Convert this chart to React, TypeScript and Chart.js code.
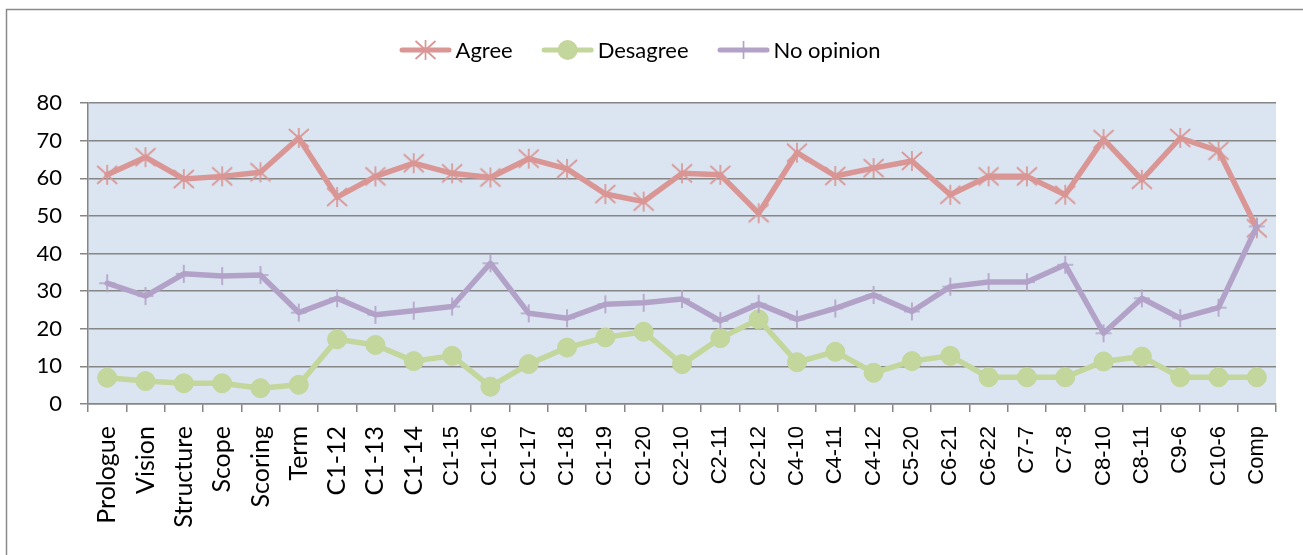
import React, { useEffect, useRef } from "react";
import { Chart, registerables } from "chart.js";

Chart.register(...registerables);

// Survey sections on the category axis
const categories = [
  "Prologue", "Vision", "Structure", "Scope", "Scoring", "Term",
  "C1-12", "C1-13", "C1-14", "C1-15", "C1-16", "C1-17", "C1-18", "C1-19", "C1-20",
  "C2-10", "C2-11", "C2-12", "C4-10", "C4-11", "C4-12", "C5-20", "C6-21", "C6-22",
  "C7-7", "C7-8", "C8-10", "C8-11", "C9-6", "C10-6", "Comp",
];

// Share of answers (%) per section
const agree = [
  60.9, 65.6, 59.8, 60.5, 61.6, 70.7, 55.0, 60.5, 64.0, 61.3, 60.2, 65.2, 62.5, 55.8, 53.8,
  61.3, 60.9, 50.7, 66.8, 60.6, 62.7, 64.6, 55.6, 60.5, 60.5, 55.6, 70.4, 59.6, 70.7, 67.3, 46.7,
];
const desagree = [
  7.0, 6.1, 5.5, 5.5, 4.2, 5.1, 17.2, 15.7, 11.4, 12.8, 4.6, 10.6, 15.0, 17.7, 19.2,
  10.6, 17.5, 22.5, 11.1, 13.9, 8.3, 11.4, 12.8, 7.1, 7.1, 7.1, 11.3, 12.6, 7.1, 7.1, 7.1,
];
const noOpinion = [
  32.1, 28.7, 34.6, 34.0, 34.3, 24.3, 28.1, 23.7, 24.8, 25.9, 37.4, 24.1, 22.8, 26.5, 26.9,
  27.9, 22.1, 26.6, 22.5, 25.4, 29.0, 24.6, 31.2, 32.4, 32.4, 37.0, 18.8, 28.1, 22.8, 25.6, 47.2,
];

const seriesNames = ["Agree", "Desagree", "No opinion"];

const Y_MIN = 0;
const Y_MAX = 80;
const Y_STEP = 10;

const AGREE_COLOR = "#d99694";
const DESAGREE_COLOR = "#c3d69b";
const NO_OPINION_COLOR = "#b3a2c7";
const PLOT_BG = "#dbe5f1";
const GRID_COLOR = "#868686";

const SANS_A = "Lato, 'Open Sans', sans-serif";
const SANS_B = "'Liberation Sans', Arial, sans-serif";

type MarkerKind = "star" | "circle" | "plus";

function paintMarker(ctx: CanvasRenderingContext2D, kind: MarkerKind, color: string, cx: number, cy: number) {
  ctx.save();
  ctx.strokeStyle = color;
  ctx.fillStyle = color;
  ctx.lineWidth = 1.7;
  ctx.lineCap = "butt";
  ctx.beginPath();
  if (kind === "star") {
    ctx.moveTo(cx - 10, cy - 9);
    ctx.lineTo(cx + 10, cy + 9);
    ctx.moveTo(cx + 10, cy - 9);
    ctx.lineTo(cx - 10, cy + 9);
    ctx.moveTo(cx, cy - 10);
    ctx.lineTo(cx, cy + 10);
    ctx.stroke();
  } else if (kind === "plus") {
    ctx.moveTo(cx, cy - 9);
    ctx.lineTo(cx, cy + 9);
    ctx.moveTo(cx - 8, cy);
    ctx.lineTo(cx + 8, cy);
    ctx.stroke();
  } else {
    ctx.arc(cx, cy, 10, 0, Math.PI * 2);
    ctx.fill();
  }
  ctx.restore();
}

function markerImage(kind: MarkerKind, color: string): HTMLCanvasElement {
  const c = document.createElement("canvas");
  c.width = 24;
  c.height = 24;
  const ctx = c.getContext("2d")!;
  paintMarker(ctx, kind, color, 12, 12);
  return c;
}

const markerKinds: MarkerKind[] = ["star", "circle", "plus"];
const colors = [AGREE_COLOR, DESAGREE_COLOR, NO_OPINION_COLOR];

// Grey frame around the whole figure and tinted plot area
const framePlugin = {
  id: "frame",
  beforeDraw(chart: any) {
    const { ctx, chartArea } = chart;
    ctx.save();
    ctx.fillStyle = "#ffffff";
    ctx.fillRect(0, 0, chart.width, chart.height);
    ctx.fillStyle = PLOT_BG;
    ctx.fillRect(chartArea.left, chartArea.top, chartArea.right - chartArea.left, chartArea.bottom - chartArea.top);
    ctx.strokeStyle = "#8a8a8a";
    ctx.lineWidth = 1.5;
    ctx.strokeRect(6.5, 9.5, chart.width + 20, chart.height + 20);
    ctx.restore();
  },
};

// Legend row: line sample with marker, then the series name
const legendPlugin = {
  id: "lineLegend",
  afterDraw(chart: any) {
    const { ctx } = chart;
    const lineLen = 52;
    const gap = 4;
    const spacing = 29;
    const centerX = 640;
    const centerY = 50;
    ctx.save();
    ctx.font = `22px ${SANS_A}`;
    const widths = chart.data.datasets.map((d: any) => ctx.measureText(d.label).width);
    const total = widths.reduce((s: number, w: number) => s + lineLen + gap + w, 0) + spacing * (widths.length - 1);
    let x = centerX - total / 2;
    chart.data.datasets.forEach((d: any, i: number) => {
      ctx.strokeStyle = colors[i];
      ctx.lineWidth = 5;
      ctx.lineCap = "round";
      ctx.beginPath();
      ctx.moveTo(x + 2.5, centerY);
      ctx.lineTo(x + lineLen - 2.5, centerY);
      ctx.stroke();
      paintMarker(ctx, markerKinds[i], colors[i], x + lineLen / 2, centerY);
      ctx.fillStyle = "#000000";
      ctx.textBaseline = "middle";
      ctx.textAlign = "left";
      ctx.fillText(d.label, x + lineLen + gap, centerY + 1);
      x += lineLen + gap + widths[i] + spacing;
    });
    ctx.restore();
  },
};

export default function App() {
  const ref = useRef<HTMLCanvasElement>(null);

  useEffect(() => {
    const canvas = ref.current;
    if (!canvas) return;
    const series = [agree, desagree, noOpinion];
    const chart = new Chart(canvas, {
      type: "line",
      data: {
        labels: categories,
        datasets: series.map((values, i) => ({
          label: seriesNames[i],
          data: values,
          borderColor: colors[i],
          backgroundColor: colors[i],
          borderWidth: 5.5,
          borderJoinStyle: "round" as const,
          borderCapStyle: "round" as const,
          tension: 0,
          fill: false,
          order: 3 - i,
          pointStyle: markerKinds[i] === "circle" ? "circle" : markerImage(markerKinds[i], colors[i]),
          pointRadius: markerKinds[i] === "circle" ? 9.5 : 10,
          pointBorderWidth: 1,
          pointBorderColor: colors[i],
          pointBackgroundColor: colors[i],
        })),
      },
      options: {
        responsive: false,
        devicePixelRatio: 1,
        animation: false,
        events: [],
        layout: { padding: { top: 103, right: 27, bottom: 0, left: 0 } },
        plugins: {
          legend: { display: false },
          tooltip: { enabled: false },
        },
        scales: {
          x: {
            type: "category",
            offset: true,
            afterFit: (s: any) => {
              s.height = 151;
            },
            grid: {
              offset: true,
              drawOnChartArea: false,
              drawTicks: true,
              tickLength: 8,
              color: GRID_COLOR,
              lineWidth: 1.5,
            },
            border: { display: true, color: GRID_COLOR, width: 1.5 },
            ticks: {
              autoSkip: false,
              minRotation: 90,
              maxRotation: 90,
              padding: 14,
              color: "#000000",
              font: (c: any) =>
                c.index >= 9 ? { family: SANS_B, size: 22 } : { family: SANS_A, size: 25 },
            },
          },
          y: {
            min: Y_MIN,
            max: Y_MAX,
            afterFit: (s: any) => {
              s.width = 88;
            },
            grid: {
              color: GRID_COLOR,
              lineWidth: 1.5,
              drawTicks: true,
              tickLength: 8,
            },
            border: { display: true, color: GRID_COLOR, width: 1.5 },
            ticks: {
              stepSize: Y_STEP,
              padding: 18,
              color: "#000000",
              font: { family: SANS_A, size: 22 },
            },
          },
        },
      },
      plugins: [framePlugin, legendPlugin],
    });
    return () => chart.destroy();
  }, []);

  return (
    <div style={{ position: "fixed", left: 0, top: 0, width: 1303, height: 555, background: "#ffffff" }}>
      <canvas ref={ref} width={1303} height={555} style={{ display: "block" }} />
    </div>
  );
}
